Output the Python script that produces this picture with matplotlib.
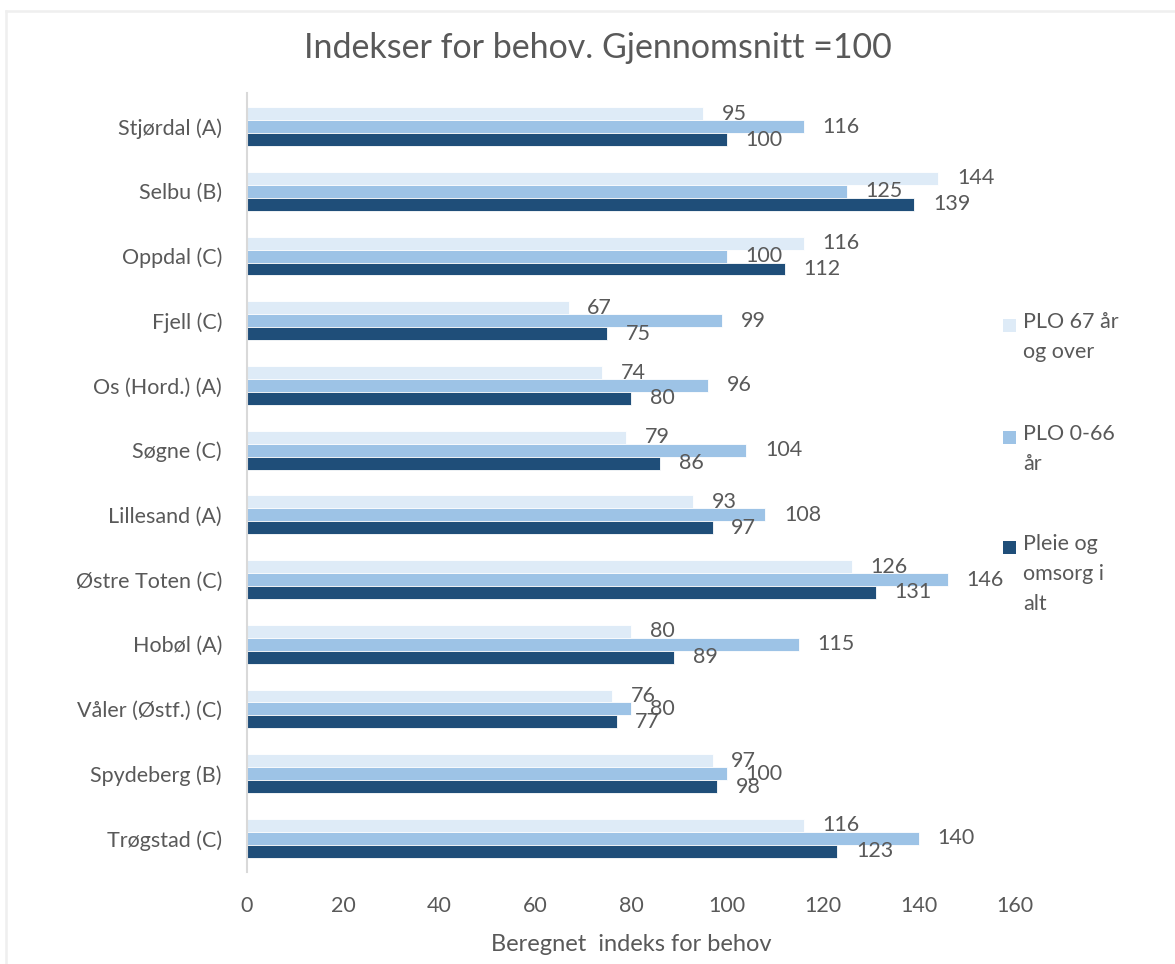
import matplotlib.pyplot as plt
import numpy as np
from matplotlib.patches import Rectangle
from matplotlib.lines import Line2D


kommuner = ['Stjørdal (A)', 'Selbu (B)', 'Oppdal (C)', 'Fjell (C)', 'Os (Hord.) (A)',
	'Søgne (C)', 'Lillesand (A)', 'Østre Toten (C)', 'Hobøl (A)', 'Våler (Østf.) (C)',
	'Spydeberg (B)', 'Trøgstad (C)']

plo_67_over = [95, 144, 116, 67, 74, 79, 93, 126, 80, 76, 97, 116]
plo_0_66 = [116, 125, 100, 99, 96, 104, 108, 146, 115, 80, 100, 140]
pleie_omsorg_alt = [100, 139, 112, 75, 80, 86, 97, 131, 89, 77, 98, 123]

serie_navn = ['PLO 67 år\nog over', 'PLO 0-66\når', 'Pleie og\nomsorg i\nalt']
x_ticks = [0, 20, 40, 60, 80, 100, 120, 140, 160]


plt.rcParams['font.family'] = ['Lato', 'DejaVu Sans']
txt_col = '#595959'
farger = ['#DEEBF7', '#9DC3E6', '#1F4E79']
fs = 15.5

W, H = 1175, 964
fig = plt.figure(figsize=(W/100, H/100), dpi=100, facecolor='white')

def px(x, y):
	return x/W, 1-y/H

# light chart frame (top and left edges)
fig.add_artist(Line2D([6/W, 6/W], [0, 1-11/H], color='#EFEFEF', lw=1.8))
fig.add_artist(Line2D([6/W, 1], [1-11/H, 1-11/H], color='#EFEFEF', lw=1.8))

ax = fig.add_axes([247/W, 1-872/H, (1015-247)/W, (872-93)/H])

y = np.arange(len(kommuner))
bar_h = 0.2
serier = [plo_67_over, plo_0_66, pleie_omsorg_alt]
for i, (verdier, farge) in enumerate(zip(serier, farger)):
	pos = y + (i-1)*bar_h
	ax.barh(pos, verdier, height=bar_h, color=farge, edgecolor='white', linewidth=0.6, zorder=2)
	for p, v in zip(pos, verdier):
		ax.annotate(str(v), xy=(v, p), xytext=(13.5, 0), textcoords='offset points',
			ha='left', va='center', fontsize=fs, color=txt_col)

ax.set_xlim(0, 160)
ax.set_ylim(11.52, -0.52)
ax.set_xticks(x_ticks)
ax.set_xticklabels([str(t) for t in x_ticks])
ax.set_yticks(y)
ax.set_yticklabels(kommuner)
ax.tick_params(axis='both', length=0, labelsize=fs, labelcolor=txt_col)
ax.tick_params(axis='y', pad=18)
ax.tick_params(axis='x', pad=17)

for s in ['top', 'right', 'bottom']:
	ax.spines[s].set_visible(False)
ax.spines['left'].set_color('#D9D9D9')
ax.spines['left'].set_linewidth(1.5)

ax.set_xlabel('Beregnet  indeks for behov', fontsize=17, color=txt_col, labelpad=13)

tx, ty = px(598, 48)
fig.text(tx, ty, 'Indekser for behov. Gjennomsnitt =100', ha='center', va='center',
	fontsize=24.5, color=txt_col)

# legend drawn by hand so the wrapped labels sit like the original
leg_top = [325, 437, 547]
for navn, farge, yt in zip(serie_navn, farger, leg_top):
	rx, ry = px(1003, yt+7)
	fig.add_artist(Rectangle((rx, ry), 13/W, 13/H, transform=fig.transFigure,
		facecolor=farge, edgecolor='none'))
	lx, ly = px(1023, yt-13)
	fig.text(lx, ly, navn, ha='left', va='top', fontsize=fs, color=txt_col,
		linespacing=1.62)

plt.savefig('out.png', dpi=100, facecolor='white')
